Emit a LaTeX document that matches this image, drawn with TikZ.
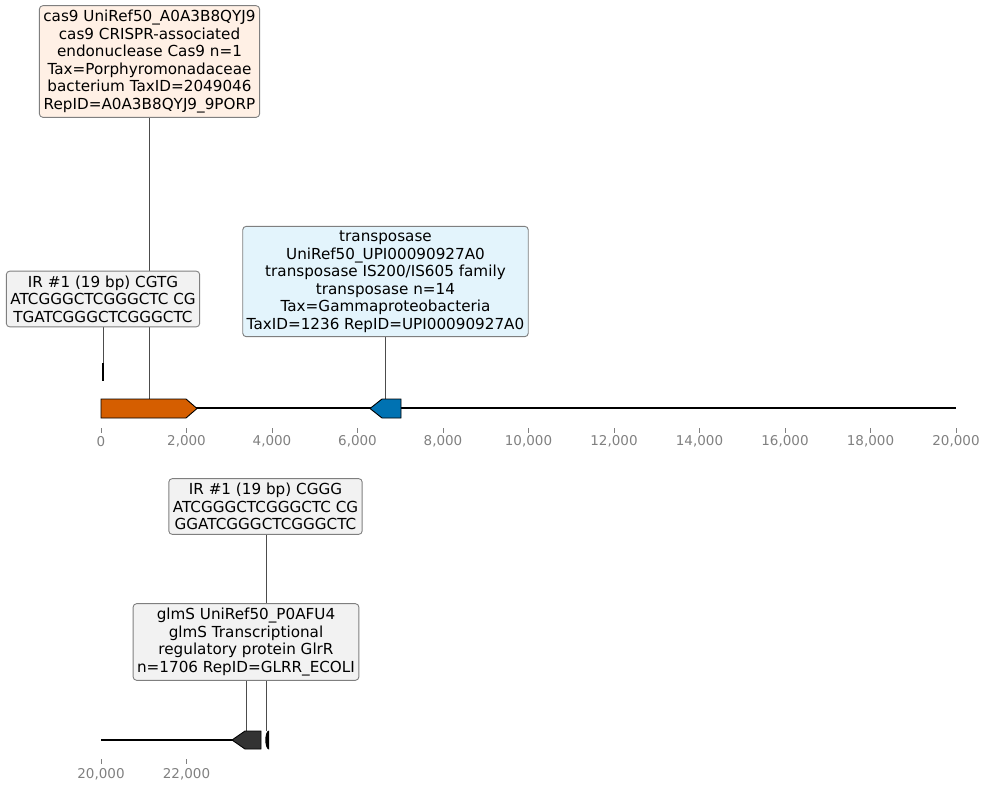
\documentclass[tikz,border=0pt]{standalone}
\usepackage{fontspec}
\setmainfont{DejaVu Sans}
\usetikzlibrary{positioning}
\usetikzlibrary{backgrounds}

\definecolor{casorange}{HTML}{D55E00}
\definecolor{tnpblue}{HTML}{0072B2}
\definecolor{glmdark}{HTML}{333333}
\definecolor{boxedge}{HTML}{7F7F7F}
\definecolor{boxgray}{HTML}{F2F2F2}
\definecolor{boxpeach}{HTML}{FFF0E5}
\definecolor{boxsky}{HTML}{E3F4FC}
\definecolor{ticktext}{HTML}{808080}

\begin{document}
\begin{tikzpicture}[x=1pt, y=-1pt,
    labelbox/.style={draw=boxedge, line width=0.9pt, rounded corners=3.5pt, align=center,
        inner xsep=4pt, inner ysep=4.5pt, font=\fontsize{15.2}{17.5}\selectfont},
    feature/.style={draw=black, line width=0.9pt},
    link/.style={draw=black!70, line width=0.7pt},
    backbone/.style={line width=1.8pt},
    ticklabel/.style={text=ticktext, font=\fontsize{13.5}{16}\selectfont}]
    \useasboundingbox (0,0) rectangle (989,793);

    % upper track: backbone and genes
    \draw[backbone] (101,408) -- (956,408);
    \draw[feature, fill=casorange] (101,399) -- (186,399) -- (197,408.5) -- (186,418) -- (101,418) -- cycle;
    \draw[feature, fill=tnpblue] (401,399) -- (382,399) -- (370,408.5) -- (382,418) -- (401,418) -- cycle;
    \fill (102.3,363) rectangle (104.3,381);

    % anchor points of the features
    \coordinate (cas9top) at (149,399);
    \coordinate (irtop) at (103.3,363);
    \coordinate (tnptop) at (385.5,399);

    % labels of the upper track
    \node (cas9box) [labelbox, fill=boxpeach] at (149.5,61.5)
    {cas9 UniRef50\_A0A3B8QYJ9\\ cas9 CRISPR-associated\\ endonuclease Cas9 n=1\\ Tax=Porphyromonadaceae\\ bacterium TaxID=2049046\\ RepID=A0A3B8QYJ9\_9PORP};
    \node (irbox) [labelbox, fill=boxgray] at (103,299)
    {IR \#1 (19 bp) CGTG\\ ATCGGGCTCGGGCTC CG\\ TGATCGGGCTCGGGCTC};
    \node (tnpbox) [labelbox, fill=boxsky] at (385.5,281.5)
    {transposase\\ UniRef50\_UPI00090927A0\\ transposase IS200/IS605 family\\ transposase n=14\\ Tax=Gammaproteobacteria\\ TaxID=1236 RepID=UPI00090927A0};

    % upper axis
    \foreach \k/\lab in {0/0, 1/{2,000}, 2/{4,000}, 3/{6,000}, 4/{8,000}, 5/{10,000},
                         6/{12,000}, 7/{14,000}, 8/{16,000}, 9/{18,000}, 10/{20,000}} {
        \draw[ticktext, line width=0.6pt] (101+85.5*\k,428) -- (101+85.5*\k,432.5);
        \node (uptick\k) [ticklabel] at (101+85.5*\k,441.5) {\lab};
    }

    % lower track: backbone and genes
    \draw[backbone] (101,740) -- (233,740);
    \draw[feature, fill=glmdark] (261,731) -- (245,731) -- (232,740) -- (245,749) -- (261,749) -- cycle;
    \fill (269,730.5) -- (269,749.5) .. controls (266.5,749.5) and (265.3,744) .. (265.3,740)
        .. controls (265.3,736) and (266.5,730.5) .. (269,730.5) -- cycle;

    \coordinate (glmtop) at (246,731);
    \coordinate (irbottop) at (266.5,731);

    % labels of the lower track
    \node (irbotbox) [labelbox, fill=boxgray] at (265.5,506.5)
    {IR \#1 (19 bp) CGGG\\ ATCGGGCTCGGGCTC CG\\ GGATCGGGCTCGGGCTC};
    \node (glmbox) [labelbox, fill=boxgray] at (246,642)
    {glmS UniRef50\_P0AFU4\\ glmS Transcriptional\\ regulatory protein GlrR\\ n=1706 RepID=GLRR\_ECOLI};

    % lower axis
    \foreach \k/\lab in {0/{20,000}, 1/{22,000}} {
        \draw[ticktext, line width=0.6pt] (101+85.5*\k,759) -- (101+85.5*\k,763.5);
        \node (lowtick\k) [ticklabel] at (101+85.5*\k,774) {\lab};
    }

    % connectors behind the boxes
    \begin{scope}[on background layer]
        \draw[link] (cas9box.south -| cas9top) -- (cas9top);
        \draw[link] (irbox.south -| irtop) -- (irtop);
        \draw[link] (tnpbox.south -| tnptop) -- (tnptop);
        \draw[link] (glmbox.south -| glmtop) -- (glmtop);
        \draw[link] (irbotbox.south -| irbottop) -- (irbottop);
    \end{scope}
\end{tikzpicture}
\end{document}
